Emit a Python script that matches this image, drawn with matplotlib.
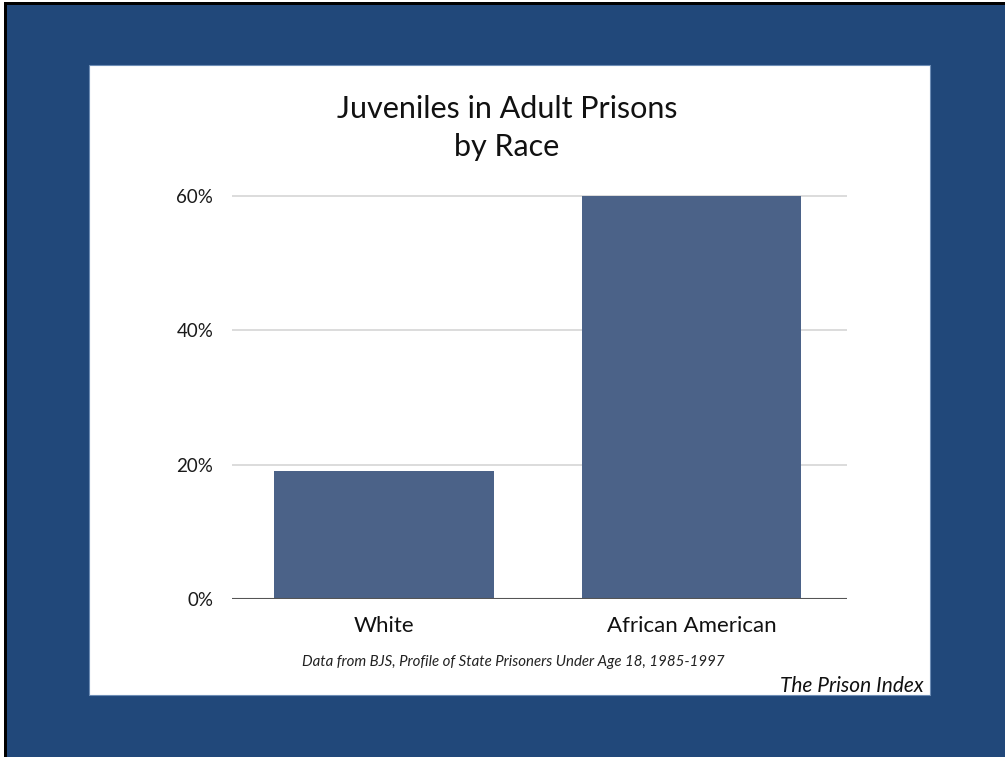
import matplotlib
matplotlib.use("Agg")
import matplotlib.pyplot as plt
from matplotlib.patches import Rectangle

# chart data
categories = ["White", "African American"]
shares = [19, 60]
tick_values = [0, 20, 40, 60]
tick_labels = ["0%", "20%", "40%", "60%"]

title = "Juveniles in Adult Prisons\nby Race"
source = "Data from BJS, Profile of State Prisoners Under Age 18, 1985-1997"
credit = "The Prison Index"

W, H = 1005, 757
fig = plt.figure(figsize=(W / 100, H / 100), dpi=100)
fig.patch.set_facecolor("white")

# slide frame: black edge, blue slide, white card
fig.patches.append(Rectangle((4 / W, 0), 1, 1 - 2 / H, transform=fig.transFigure,
                             facecolor="black", edgecolor="none", zorder=-3))
fig.patches.append(Rectangle((7 / W, 0), 1, 1 - 5 / H, transform=fig.transFigure,
                             facecolor="#21487a", edgecolor="none", zorder=-2))
fig.patches.append(Rectangle((89 / W, 1 - 695 / H), 841 / W, 630 / H,
                             transform=fig.transFigure, facecolor="white",
                             edgecolor="#6d8db5", linewidth=0.8, zorder=-1))

plt.rcParams["font.family"] = ["Lato", "DejaVu Sans"]

ax = fig.add_axes([232 / W, 1 - 599 / H, 615 / W, (599 - 182.6) / H])
ax.set_zorder(2)
ax.set_facecolor("none")

ax.bar(range(len(categories)), shares, width=0.714, color="#4b6288", zorder=3)

ax.set_xlim(-0.495, 1.505)
ax.set_ylim(0, 62)
ax.set_yticks(tick_values)
ax.set_yticklabels(tick_labels, fontsize=13.5, color="#1a1a1a")
ax.set_xticks(range(len(categories)))
ax.set_xticklabels(categories, fontsize=16, color="#111111")
ax.tick_params(axis="both", length=0)
ax.tick_params(axis="y", pad=13.5)
ax.tick_params(axis="x", pad=12)

for v in tick_values[1:]:
    ax.axhline(v, color="#d6d6d6", linewidth=1.2, zorder=1)
ax.axhline(0, color="#555555", linewidth=1.5, zorder=4)

for side in ["top", "right", "left", "bottom"]:
    ax.spines[side].set_visible(False)

fig.text(507 / W, 1 - 128 / H, title, ha="center", va="center",
         fontsize=22, color="#111111", linespacing=1.45)
fig.text(513 / W, 1 - 662 / H, source, ha="center", va="center",
         fontsize=10.8, style="italic", color="#222222")
fig.text(924 / W, 1 - 686 / H, credit, ha="right", va="center",
         fontsize=15, style="italic", color="#111111")

fig.savefig("out.png", dpi=100, facecolor=fig.get_facecolor())
